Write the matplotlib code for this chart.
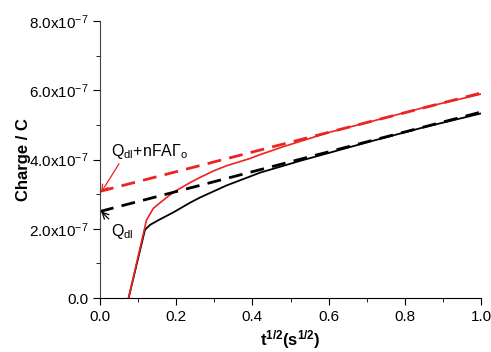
import numpy as np
import matplotlib.pyplot as plt
from matplotlib.ticker import MultipleLocator, FuncFormatter

plt.rcParams['font.family'] = ['Liberation Sans', 'DejaVu Sans']
plt.rcParams['mathtext.fontset'] = 'custom'
plt.rcParams['mathtext.rm'] = 'Liberation Sans'
plt.rcParams['mathtext.bf'] = 'Liberation Sans:bold'
plt.rcParams['mathtext.it'] = 'Liberation Sans:italic'

# 电荷随 t^(1/2) 的变化 (Anson 图)
t_blank = [0.075, 0.118, 0.131, 0.157, 0.192, 0.236, 0.262, 0.332, 0.394, 0.42,
           0.525, 0.709, 0.85, 1.0]
q_blank = [0.0, 1.97e-7, 2.11e-7, 2.27e-7, 2.47e-7, 2.75e-7, 2.90e-7, 3.25e-7, 3.51e-7,
           3.62e-7, 3.96e-7, 4.52e-7, 4.93e-7, 5.33e-7]
t_ads = [0.075, 0.122, 0.14, 0.162, 0.192, 0.236, 0.262, 0.30, 0.332, 0.394, 0.42,
         0.481, 0.6, 0.709, 0.85, 1.0]
q_ads = [0.0, 2.25e-7, 2.59e-7, 2.79e-7, 3.05e-7, 3.33e-7, 3.48e-7, 3.68e-7, 3.82e-7,
         4.03e-7, 4.14e-7, 4.37e-7, 4.78e-7, 5.09e-7, 5.50e-7, 5.89e-7]

# 线性外推
fit_x = [0.0, 1.0]
fit_blank = [2.50e-7, 5.37e-7]
fit_ads = [3.08e-7, 5.92e-7]


def sci_fmt(v, pos):
    if abs(v) < 1e-12:
        return '0.0'
    return r'%.1fx10$^{\mathregular{-7}}$' % (v / 1e-7)


fig = plt.figure(figsize=(4.91, 3.52), dpi=100)
ax = fig.add_axes([0.2037, 0.1534, 0.7759, 0.7869])

red = '#ee2222'
ax.plot(t_blank, q_blank, color='black', lw=1.3)
ax.plot(t_ads, q_ads, color=red, lw=1.2)
ax.plot(fit_x, fit_blank, color='black', lw=2, ls=(0, (5, 3)))
ax.plot(fit_x, fit_ads, color=red, lw=2, ls=(0, (5, 3)))

ax.set_xlim(0, 1.0)
ax.set_ylim(0, 8e-7)
ax.xaxis.set_major_locator(MultipleLocator(0.2))
ax.xaxis.set_minor_locator(MultipleLocator(0.1))
ax.yaxis.set_major_locator(MultipleLocator(2e-7))
ax.yaxis.set_minor_locator(MultipleLocator(1e-7))
ax.xaxis.set_major_formatter(FuncFormatter(lambda v, p: '%.1f' % v))
ax.yaxis.set_major_formatter(FuncFormatter(sci_fmt))
ax.tick_params(which='both', direction='out', labelsize=11)
ax.tick_params(which='major', length=5)
ax.tick_params(which='minor', length=3)
for s in ['top', 'right']:
    ax.spines[s].set_visible(False)
ax.spines['left'].set_color('#444444')

ax.set_xlabel(r'$\mathbf{t^{1/2}(s^{1/2})}$', fontsize=12, labelpad=3)
ax.set_ylabel('Charge / C', fontsize=12, fontweight='bold', labelpad=-1.5)

ax.annotate(r'Q$_{\mathregular{dl}}$+nFA$\mathregular{\Gamma}_{\mathregular{o}}$',
            xy=(0.003, 3.05e-7), xytext=(0.03, 4.1e-7), fontsize=11.5, color='black',
            arrowprops=dict(arrowstyle='->', color=red, lw=0.9, shrinkA=0, shrinkB=0,
                            relpos=(0.12, 0.0)))
ax.annotate(r'Q$_{\mathregular{dl}}$', xy=(0.003, 2.5e-7), xytext=(0.03, 1.8e-7),
            fontsize=11.5, color='black',
            arrowprops=dict(arrowstyle='->', color='black', lw=0.9, shrinkA=0, shrinkB=0,
                            relpos=(0.0, 1.0)))

fig.savefig('out.png', dpi=100)
